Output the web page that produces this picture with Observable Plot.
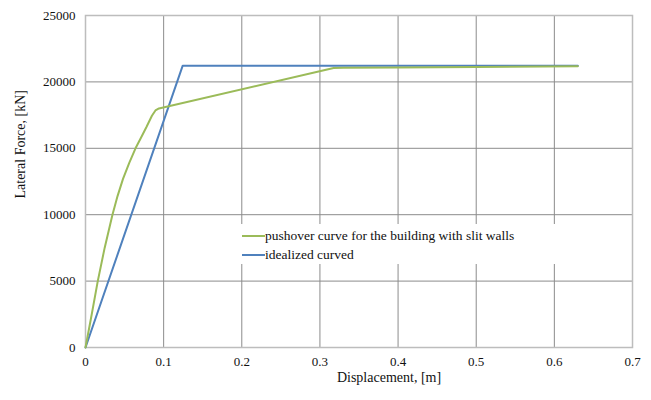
<!DOCTYPE html>
<html>
<head>
<meta charset="utf-8">
<script src="https://cdn.jsdelivr.net/npm/d3@7"></script>
<script src="https://cdn.jsdelivr.net/npm/@observablehq/plot@0.6"></script>
<style>
  body { margin: 0; background: #fff; }
  #wrap { position: relative; width: 651px; height: 400px; font-family: "Liberation Serif", serif; }
  #legend { position: absolute; left: 238px; top: 224px; width: 320px; height: 40px; background: #fff; font-family: "Liberation Serif", serif; font-size: 13.5px; color: #111; }
  .item { position: absolute; left: 4px; height: 19px; display: flex; align-items: center; white-space: nowrap; }
  .sw { display: inline-block; width: 23px; height: 2px; }
  svg text { font-family: "Liberation Serif", serif; }
</style>
</head>
<body>
<div id="wrap"></div>
<script>
const pushoverX = [0, 0.008, 0.0157, 0.0245, 0.0345, 0.041, 0.048, 0.056, 0.064, 0.071, 0.078, 0.085, 0.0895, 0.094, 0.3175, 0.33, 0.4, 0.5, 0.63];
const pushoverY = [0, 2500, 5000, 7500, 10000, 11400, 12700, 13900, 15000, 15800, 16600, 17450, 17850, 18000, 21040, 21060, 21080, 21120, 21180];
const idealX = [0, 0.1244, 0.63];
const idealY = [0, 21220, 21220];
const xTicks = [0, 0.1, 0.2, 0.3, 0.4, 0.5, 0.6, 0.7];
const yTicks = [0, 5000, 10000, 15000, 20000, 25000];
const seriesNames = ["pushover curve for the building with slit walls", "idealized curved"];
const seriesColors = ["#9bbb59", "#4f81bd"];

const pushover = pushoverX.map((x, i) => ({x, y: pushoverY[i]}));
const ideal = idealX.map((x, i) => ({x, y: idealY[i]}));
const serif = '"Liberation Serif", serif';

const chart = Plot.plot({
  width: 651,
  height: 400,
  marginLeft: 85,
  marginRight: 19,
  marginTop: 15,
  marginBottom: 53,
  style: {fontFamily: serif, fontSize: "13px", color: "#111", background: "#fff"},
  x: {domain: [0, 0.7]},
  y: {domain: [0, 25000]},
  marks: [
    Plot.gridX(xTicks, {stroke: "#8c8c8c", strokeOpacity: 1, strokeWidth: 1}),
    Plot.gridY(yTicks, {stroke: "#8c8c8c", strokeOpacity: 1, strokeWidth: 1}),
    Plot.frame({stroke: "#bdbdbd", strokeWidth: 1.5}),
    Plot.axisX(xTicks, {tickSize: 0, tickPadding: 9, tickFormat: d => String(d), label: null, fontSize: 13, fontFamily: serif}),
    Plot.axisY(yTicks, {tickSize: 0, tickPadding: 10, tickFormat: d => String(d), label: null, fontSize: 13, fontFamily: serif}),
    Plot.text(["Displacement, [m]"], {frameAnchor: "bottom", dx: 30, dy: 34, fontSize: 14, fontFamily: serif}),
    Plot.text(["Lateral Force, [kN]"], {frameAnchor: "left", rotate: -90, dx: -65, dy: 17, fontSize: 14, fontFamily: serif}),
    Plot.line(ideal, {x: "x", y: "y", stroke: seriesColors[1], strokeWidth: 2}),
    Plot.line(pushover, {x: "x", y: "y", stroke: seriesColors[0], strokeWidth: 2, curve: "linear", strokeLinejoin: "round"})
  ]
});

const wrap = document.getElementById("wrap");
wrap.appendChild(chart);
const legend = document.createElement("div");
legend.id = "legend";
seriesNames.forEach((name, i) => {
  const item = document.createElement("div");
  item.className = "item";
  item.style.top = (2 + i * 19) + "px";
  const sw = document.createElement("span");
  sw.className = "sw";
  sw.style.background = seriesColors[i];
  item.appendChild(sw);
  item.appendChild(document.createTextNode(name));
  legend.appendChild(item);
});
wrap.appendChild(legend);
</script>
</body>
</html>
